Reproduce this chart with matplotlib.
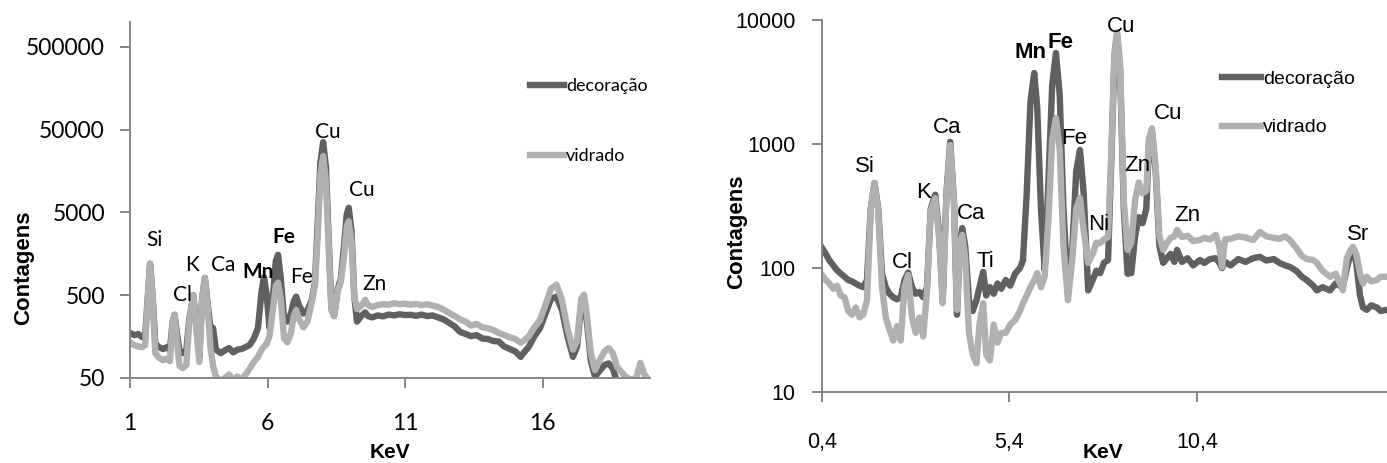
import matplotlib
matplotlib.use("Agg")
import matplotlib.pyplot as plt
from matplotlib.ticker import FixedLocator, FixedFormatter, NullLocator

# ---- painel esquerdo (escala 1-20 keV) ----
e_esq = [1.0, 1.15, 1.3, 1.45, 1.55, 1.65, 1.73, 1.82, 1.92, 2.05, 2.2, 2.35, 2.45, 2.55,
         2.62, 2.7, 2.8, 2.92, 3.05, 3.15, 3.3, 3.42, 3.52, 3.62, 3.72, 3.82, 3.92, 4.02,
         4.12, 4.3, 4.45, 4.6, 4.75, 4.9, 5.05, 5.2, 5.35, 5.5, 5.65, 5.78, 5.87, 5.97,
         6.07, 6.2, 6.3, 6.38, 6.48, 6.6, 6.72, 6.85, 6.95, 7.04, 7.14, 7.3, 7.45, 7.6,
         7.72, 7.82, 7.92, 8.02, 8.12, 8.22, 8.32, 8.42, 8.55, 8.66, 8.78, 8.88, 8.95,
         9.05, 9.15, 9.25, 9.4, 9.55, 9.65, 9.8, 10.0, 10.2, 10.4, 10.6, 10.8, 11.0, 11.2,
         11.4, 11.6, 11.8, 12.0, 12.2, 12.4, 12.6, 12.8, 13.0, 13.2, 13.4, 13.6, 13.8,
         14.0, 14.2, 14.4, 14.6, 14.8, 15.0, 15.2, 15.3, 15.5, 15.7, 15.9, 16.1, 16.3,
         16.5, 16.7, 16.9, 17.1, 17.25, 17.4, 17.5, 17.6, 17.75, 17.9, 18.05, 18.25, 18.4,
         18.55, 18.7, 18.85, 19.0, 19.2, 19.4, 19.55, 19.7, 19.9]
decor_esq = [175, 165, 170, 155, 160, 500, 1200, 500, 130, 118, 112, 118, 108, 240,
             290, 180, 105, 100, 110, 250, 500, 200, 90, 450, 810, 400, 210, 200,
             110, 100, 108, 115, 102, 110, 112, 118, 125, 150, 200, 550, 830, 500,
             200, 500, 1300, 1540, 800, 260, 240, 300, 420, 480, 380, 300, 330, 430,
             700, 3500, 20000, 35400, 18000, 2500, 350, 280, 600, 780, 2000, 4800, 5700,
             3000, 500, 240, 280, 310, 280, 270, 285, 278, 292, 285, 295, 288, 290,
             282, 292, 280, 285, 270, 255, 232, 210, 180, 170, 160, 165, 150,
             148, 140, 138, 120, 112, 105, 90, 100, 120, 160, 200, 300, 450,
             480, 330, 160, 90, 120, 380, 405, 250, 80, 52, 60, 72, 75,
             65, 45, 30, 25, 20, 20, 20, 20, 20]
vidrado_esq = [135, 125, 120, 118, 125, 480, 1200, 480, 100, 88, 82, 86, 80, 230,
               290, 150, 70, 66, 72, 230, 500, 180, 78, 430, 810, 380, 120, 70,
               52, 46, 50, 55, 46, 52, 48, 55, 65, 78, 90, 110, 120, 130,
               160, 350, 650, 710, 450, 150, 135, 175, 280, 330, 260, 205, 240, 400,
               650, 2500, 14000, 24000, 12000, 2000, 330, 280, 560, 720, 1500, 3400, 3900,
               2200, 500, 340, 370, 440, 380, 360, 380, 390, 385, 400, 390, 395, 385,
               392, 380, 388, 375, 360, 335, 305, 280, 255, 240, 215, 225, 205,
               200, 190, 175, 165, 155, 148, 133, 140, 160, 205, 250, 380, 600,
               670, 440, 200, 110, 140, 450, 507, 300, 100, 62, 80, 105, 115,
               100, 68, 60, 52, 48, 50, 76, 55, 45]

# ---- painel direito (escala 0,4-15,4 keV) ----
e_dir = [0.4, 0.5, 0.6, 0.7, 0.8, 0.9, 1.0, 1.1, 1.2, 1.3, 1.4, 1.5, 1.6, 1.7, 1.8, 1.9,
         2.0, 2.1, 2.2, 2.3, 2.4, 2.5, 2.6, 2.7, 2.8, 2.9, 3.0, 3.1, 3.2, 3.3, 3.42, 3.52,
         3.62, 3.72, 3.82, 3.92, 4.0, 4.08, 4.14, 4.22, 4.32, 4.42, 4.52, 4.6, 4.7, 4.78,
         4.88, 4.98, 5.08, 5.18, 5.3, 5.42, 5.55, 5.68, 5.76, 5.86, 5.96, 6.06, 6.14,
         6.24, 6.34, 6.44, 6.54, 6.64, 6.74, 6.84, 6.96, 7.08, 7.18, 7.28, 7.38, 7.5,
         7.62, 7.72, 7.82, 7.92, 8.03, 8.12, 8.2, 8.27, 8.35, 8.45, 8.55, 8.65, 8.75,
         8.85, 8.95, 9.05, 9.12, 9.2, 9.3, 9.4, 9.5, 9.6, 9.7, 9.8, 9.87, 10.0, 10.15,
         10.3, 10.48, 10.6, 10.75, 10.9, 11.0, 11.07, 11.15, 11.3, 11.5, 11.7, 11.9,
         12.08, 12.25, 12.45, 12.6, 12.75, 12.88, 13.05, 13.2, 13.33, 13.5, 13.6, 13.75,
         13.95, 14.1, 14.29, 14.4, 14.5, 14.56, 14.65, 14.75, 14.83, 14.93, 15.05, 15.2,
         15.3, 15.47]
decor_dir = [145, 130, 115, 105, 96, 90, 85, 80, 78, 75, 72, 70, 80, 300, 485, 300,
             90, 70, 62, 58, 56, 58, 80, 92, 70, 62, 64, 58, 70, 300, 390, 200,
             56, 400, 1040, 350, 42, 160, 210, 150, 55, 45, 55, 70, 93, 60,
             70, 62, 75, 68, 80, 72, 90, 100, 115, 400, 2200, 3740, 2000,
             300, 96, 500, 3000, 5420, 2500, 300, 65, 150, 600, 895, 400, 66,
             80, 95, 91, 110, 116, 800, 5000, 7500, 4000, 300, 90, 91, 180,
             257, 230, 300, 1000, 1300, 600, 150, 110, 120, 130, 112, 140, 112, 120,
             105, 116, 110, 118, 120, 110, 100, 112, 105, 118, 112, 120,
             123, 115, 118, 110, 105, 102, 95, 85, 80, 72, 66, 70,
             66, 75, 70, 100, 130, 145, 110, 60, 48, 46, 50, 48,
             45, 46]
vidrado_dir = [88, 80, 75, 68, 72, 60, 58, 45, 42, 48, 40, 42, 55, 300, 485, 290,
               70, 40, 32, 26, 34, 26, 70, 88, 40, 30, 40, 28, 65, 290, 366, 180,
               52, 380, 980, 340, 46, 150, 185, 120, 30, 20, 17, 35, 52, 20,
               18, 35, 25, 30, 30, 35, 38, 45, 52, 60, 70, 80, 91,
               70, 85, 250, 1100, 1620, 900, 150, 55, 120, 300, 367, 200, 110,
               130, 160, 159, 170, 178, 900, 5500, 7970, 4500, 350, 140, 159, 350,
               490, 400, 420, 1100, 1340, 650, 180, 140, 159, 175, 180, 203, 178, 182,
               165, 168, 175, 170, 185, 148, 102, 170, 172, 180, 176, 168,
               195, 180, 175, 172, 180, 168, 145, 125, 118, 116, 110, 95,
               85, 90, 66, 120, 140, 148, 130, 90, 75, 85, 78, 80,
               85, 85]

# rótulos dos elementos: (texto, keV, contagens, negrito)
rot_esq = [("Si", 1.87, 2355, False), ("Cl", 2.89, 507, False), ("K", 3.25, 1170, False),
           ("Ca", 4.38, 1170, False), ("Mn", 5.65, 963, True), ("Fe", 6.6, 2560, True),
           ("Fe", 7.22, 837, False), ("Cu", 8.2, 46600, False), ("Cu", 9.44, 9240, False),
           ("Zn", 9.87, 689, False)]
rot_dir = [("Si", 1.55, 653, False), ("Cl", 2.55, 110, False), ("K", 3.11, 410, False),
           ("Ca", 3.73, 1371, False), ("Ca", 4.37, 273, False), ("Ti", 4.77, 112, False),
           ("Mn", 5.95, 5420, True), ("Fe", 6.77, 6530, True), ("Fe", 7.12, 1117, False),
           ("Ni", 7.79, 226, False), ("Cu", 8.37, 8790, False), ("Zn", 8.8, 677, False),
           ("Cu", 9.63, 1778, False), ("Zn", 10.15, 267, False), ("Sr", 14.69, 185, False)]

ticks_x_esq = [1, 6, 11, 16]
ticks_y_esq = [50, 500, 5000, 50000, 500000]
ticks_x_dir = [0.4, 5.4, 10.4]
ticks_y_dir = [10, 100, 1000, 10000]

cor_decor = "#606060"
cor_vidr = "#b0b0b0"
cinza = "#868686"

W, H = 1387, 463
fig = plt.figure(figsize=(W / 100, H / 100), dpi=100)

ax1 = fig.add_axes([130 / W, 1 - 378 / H, 520 / W, 356 / H])
ax2 = fig.add_axes([822 / W, 1 - 392 / H, 565 / W, 372 / H])


def estilo(ax, fonte, tam, xt, yt, xlab, ylab, xpad, ypad):
    ax.set_yscale("log")
    for s in ["top", "right"]:
        ax.spines[s].set_visible(False)
    for s in ["left", "bottom"]:
        ax.spines[s].set_color(cinza)
        ax.spines[s].set_linewidth(1.4)
    ax.xaxis.set_major_locator(FixedLocator(xt))
    ax.xaxis.set_major_formatter(FixedFormatter(xlab))
    ax.yaxis.set_major_locator(FixedLocator(yt))
    ax.yaxis.set_major_formatter(FixedFormatter(ylab))
    ax.yaxis.set_minor_locator(NullLocator())
    ax.xaxis.set_minor_locator(NullLocator())
    ax.tick_params(axis="x", length=7, width=1.4, color=cinza, pad=xpad)
    ax.tick_params(axis="y", length=7, width=1.4, color=cinza, pad=ypad)
    for t in ax.get_xticklabels() + ax.get_yticklabels():
        t.set_fontfamily(fonte)
        t.set_fontsize(tam)


# painel esquerdo
ax1.plot(e_esq, decor_esq, color=cor_decor, lw=4.6, solid_joinstyle="round", label="decoração")
ax1.plot(e_esq, vidrado_esq, color=cor_vidr, lw=4.6, solid_joinstyle="round", label="vidrado")
ax1.set_xlim(1, 19.9)
ax1.set_ylim(50, 1e6)
estilo(ax1, "Lato", 16.5, ticks_x_esq, ticks_y_esq,
       [str(v) for v in ticks_x_esq], [str(v) for v in ticks_y_esq], 18, 11)
for txt, x, y, b in rot_esq:
    ax1.text(x, y, txt, ha="center", va="center", fontsize=15, family="Lato",
             fontweight="bold" if b else "normal")
ax1.legend(loc="upper left", bbox_to_anchor=(530 / W, 1 - 78 / H), bbox_transform=fig.transFigure,
           frameon=False, handlelength=1.9, handletextpad=0.1,
           labelspacing=3.0, borderaxespad=0, borderpad=0, prop={"family": "Lato", "size": 13})

# painel direito
ax2.plot(e_dir, decor_dir, color=cor_decor, lw=4.6, solid_joinstyle="round", label="decoração")
ax2.plot(e_dir, vidrado_dir, color=cor_vidr, lw=4.6, solid_joinstyle="round", label="vidrado")
ax2.set_xlim(0.4, 15.47)
ax2.set_ylim(10, 10000)
estilo(ax2, "Liberation Sans", 15.5, ticks_x_dir, ticks_y_dir,
       [str(v).replace(".", ",") for v in ticks_x_dir], [str(v) for v in ticks_y_dir], 22, 12)
for txt, x, y, b in rot_dir:
    ax2.text(x, y, txt, ha="center", va="center", fontsize=16, family="Liberation Sans",
             fontweight="bold" if b else "normal")
ax2.legend(loc="upper left", bbox_to_anchor=(1222 / W, 1 - 70 / H), bbox_transform=fig.transFigure,
           frameon=False, handlelength=2.0, handletextpad=0.1,
           labelspacing=1.6, borderaxespad=0, borderpad=0, prop={"family": "Liberation Sans", "size": 14})

# títulos dos eixos
for xc, yc in [(24, 268), (737, 232)]:
    fig.text(xc / W, 1 - yc / H, "Contagens", rotation=90, ha="center", va="center",
             fontsize=16, fontweight="bold", family="Liberation Sans")
for xc in [390, 1103]:
    fig.text(xc / W, 1 - 443 / H, "KeV", ha="center", va="top",
             fontsize=15, fontweight="bold", family="Liberation Sans")

fig.savefig("out.png", dpi=100)
